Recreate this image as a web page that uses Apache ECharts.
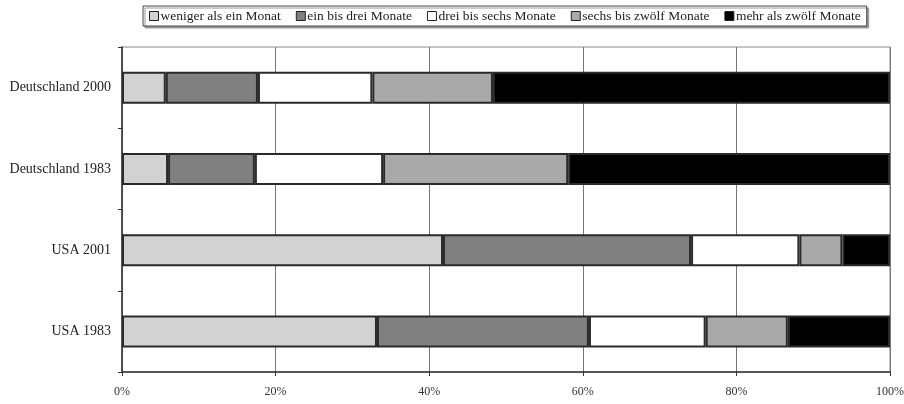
<!DOCTYPE html>
<html><head><meta charset="utf-8">
<script src="https://cdn.jsdelivr.net/npm/echarts@6/dist/echarts.min.js"></script>
<style>html,body{margin:0;padding:0;background:#fff;overflow:hidden}#c{width:904px;height:404px}</style>
</head><body><div id="c"></div>
<script>
const categories = ['USA 1983', 'USA 2001', 'Deutschland 1983', 'Deutschland 2000'];
const seriesNames = ['weniger als ein Monat', 'ein bis drei Monate', 'drei bis sechs Monate', 'sechs bis zwölf Monate', 'mehr als zwölf Monate'];
const lessThanOne = [33.2, 41.8, 6.0, 5.7];
const oneToThree = [27.6, 32.3, 11.3, 12.0];
const threeToSix = [15.2, 14.1, 16.7, 14.9];
const sixToTwelve = [10.7, 5.6, 24.1, 15.7];
const moreThanTwelve = [13.3, 6.2, 41.9, 51.7];
const xTicks = [0, 20, 40, 60, 80, 100];

const values = [lessThanOne, oneToThree, threeToSix, sixToTwelve, moreThanTwelve];
const colors = ['#d2d2d2', '#808080', '#ffffff', '#a9a9a9', '#000000'];
const font = '"Liberation Serif", "DejaVu Serif", serif';

const chart = echarts.init(document.getElementById('c'), null, {renderer: 'canvas'});
chart.setOption({
  animation: false,
  backgroundColor: '#fff',
  textStyle: {fontFamily: font},
  legend: {
    data: seriesNames,
    top: 6, left: 143,
    itemWidth: 9, itemHeight: 9, itemGap: 15,
    padding: [3, 6],
    borderColor: '#444', borderWidth: 1,
    backgroundColor: '#fff',
    shadowColor: '#999', shadowOffsetX: 2, shadowOffsetY: 2, shadowBlur: 0,
    icon: 'rect',
    textStyle: {fontFamily: font, fontSize: 13.5, color: '#222', padding: [0, 0, 0, -3]},
    itemStyle: {borderColor: '#222', borderWidth: 1}
  },
  grid: {left: 122, right: 14, top: 47, bottom: 32, show: true, borderColor: '#888', borderWidth: 1,
         containLabel: false, outerBoundsMode: 'none'},
  xAxis: {
    type: 'value', min: 0, max: 100, interval: 20,
    axisLine: {show: true, lineStyle: {color: '#333', width: 1.5}},
    axisTick: {show: true, length: 4, lineStyle: {color: '#333'}},
    axisLabel: {formatter: v => v + '%', fontFamily: font, fontSize: 12, color: '#333', margin: 14},
    splitLine: {show: true, lineStyle: {color: '#777', width: 1}}
  },
  yAxis: {
    type: 'category', data: categories,
    axisLine: {show: true, lineStyle: {color: '#333', width: 1.5}},
    axisTick: {show: true, length: 4, lineStyle: {color: '#333'}},
    axisLabel: {fontFamily: font, fontSize: 14, color: '#222', margin: 11}
  },
  series: seriesNames.map((n, i) => ({
    name: n, type: 'bar', stack: 'all', data: values[i], barWidth: 32,
    itemStyle: {color: colors[i], borderColor: '#2a2a2a', borderWidth: 2}
  }))
});
</script></body></html>
